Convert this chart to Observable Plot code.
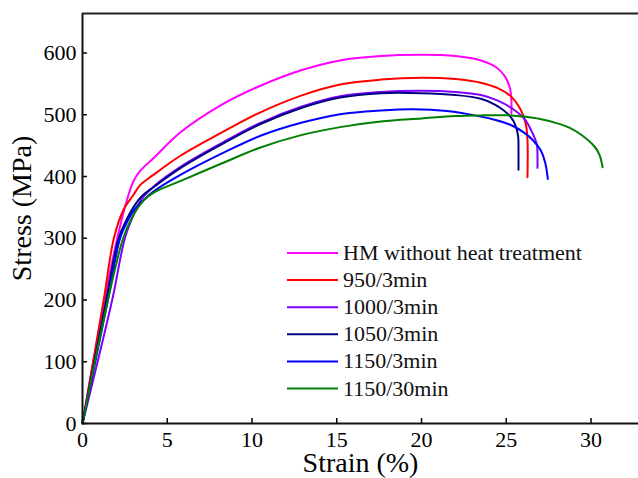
<!DOCTYPE html>
<html>
<head>
<meta charset="utf-8">
<script src="https://cdn.jsdelivr.net/npm/d3@7"></script>
<script src="https://cdn.jsdelivr.net/npm/@observablehq/plot@0.6"></script>
<style>
  html, body { margin: 0; padding: 0; background: white; }
  #wrap { position: relative; width: 638px; height: 478px; }
  #legend { position: absolute; left: 0; top: 0; pointer-events: none; }
  #wrap svg, #wrap svg text { font-family: "Liberation Serif", "Times New Roman", "DejaVu Serif", serif !important; }
</style>
</head>
<body>
<div id="wrap"></div>
<script>
// ---- data (strain %, stress MPa) ----
const seriesNames = ["HM without heat treatment", "950/3min", "1000/3min", "1050/3min", "1150/3min", "1150/30min"];
const seriesColors = ["#ff00ff", "#ff0000", "#8000ff", "#000080", "#0000ff", "#008000"];

const hm = [[0,0],[1.3,200],[2.05,300],[2.6,360],[3.0,392],[3.4,409],[4.2,430],[5.8,472],[8.2,516],[10.5,547],[12.9,572],[15.2,588],[17.6,595],[20,597],[22,595],[23.5,588],[24.4,577],[24.9,563],[25.2,545],[25.3,525],[25.3,502]];
const t950 = [[0,0],[1.25,200],[1.85,300],[2.4,345],[3.0,370],[3.4,386],[4.2,403],[5.8,434],[8.2,471],[10.5,504],[12.9,531],[15.2,549],[17.6,557],[20,560],[22,558],[23.5,552],[24.5,543],[25.3,529],[25.85,508],[26.15,485],[26.25,460],[26.25,399]];
const t1000 = [[0,0],[1.75,200],[2.5,300],[3.0,337],[3.5,364],[4.2,384],[5.8,416],[8.2,454],[10.5,487],[12.9,513],[15.2,530],[17.6,537],[20,539],[22,537],[23.5,532],[24.5,523],[25.3,511],[26.05,494],[26.5,473],[26.8,452],[26.84,435],[26.84,414]];
const t1050 = [[0,0],[1.4,200],[2.13,300],[2.6,330],[3.0,350],[3.5,368],[4.2,383],[5.8,414],[8.2,452],[10.5,485],[12.9,511],[15.2,528],[17.6,535],[20,535],[22,532],[23.5,526],[24.3,517],[24.8,508],[25.27,496],[25.55,482],[25.7,465],[25.72,445],[25.72,411]];
const t1150 = [[0,0],[1.5,200],[2.22,300],[2.7,330],[3.1,348],[3.6,362],[4.2,376],[5.8,403],[8.2,437],[10.5,466],[12.9,487],[15.2,501],[17.6,507],[19.5,509],[21.5,506],[23.5,497],[24.3,492],[25.3,483],[26.05,471],[26.6,458],[27.04,442],[27.3,422],[27.45,396]];
const t1150b = [[0,0],[1.5,200],[2.4,300],[2.93,334],[3.6,361],[4.2,374],[5.8,393],[8.2,421],[10.5,447],[12.9,467],[15.2,480],[17.6,489],[20,494],[22,498],[23.5,499],[25.3,499],[26.05,497],[27,493],[28.02,486],[28.8,478],[29.4,468],[30.19,449],[30.5,435],[30.68,415]];

const xTicks = [0, 5, 10, 15, 20, 25, 30];
const yTicks = [0, 100, 200, 300, 400, 500, 600];
const xMax = 32.8;
const yMax = 664;
const xLabel = "Strain (%)";
const yLabel = "Stress (MPa)";

const allSeries = [hm, t950, t1000, t1050, t1150, t1150b];
const rows = allSeries.flatMap((s, i) => s.map(([strain, stress]) => ({series: seriesNames[i], strain, stress})));

const font = "Liberation Serif, Times New Roman, DejaVu Serif, serif";

const chart = Plot.plot({
  width: 638,
  height: 478,
  marginLeft: 82,
  marginRight: 0,
  marginTop: 13,
  marginBottom: 55,
  style: {fontFamily: font, background: "white", color: "black", fontSize: "22px"},
  x: {domain: [0, xMax]},
  y: {domain: [0, yMax]},
  color: {domain: seriesNames, range: seriesColors},
  marks: [
    Plot.line(rows, {x: "strain", y: "stress", z: "series", stroke: "series", strokeWidth: 2, curve: "catmull-rom"}),
    Plot.axisX({ticks: xTicks, tickSize: -5, tickPadding: 13, label: null, fontSize: 22, fontFamily: font, strokeWidth: 1.5}),
    Plot.axisY({ticks: yTicks, tickSize: -5, tickPadding: 11, label: null, fontSize: 22, fontFamily: font, strokeWidth: 1.5}),
    Plot.ruleY([0], {stroke: "#111", strokeWidth: 2}),
    Plot.ruleX([0], {stroke: "#111", strokeWidth: 2}),
    Plot.ruleY([yMax], {stroke: "#222", strokeWidth: 2}),
    Plot.text([xLabel], {frameAnchor: "bottom", dy: 40, fontSize: 28, fontFamily: font, lineAnchor: "middle", textAnchor: "middle"}),
    Plot.text([yLabel], {frameAnchor: "left", dx: -60, dy: -10, rotate: -90, fontSize: 28, fontFamily: font, lineAnchor: "middle", textAnchor: "middle"})
  ]
});

const wrap = document.getElementById("wrap");
wrap.appendChild(chart);

// legend overlay (inside plot area, as in the reference)
const legendX0 = 287, legendX1 = 338, legendTextX = 343, legendY0 = 253, legendStep = 27.1;
const svg = d3.select(wrap).append("svg")
  .attr("id", "legend").attr("width", 638).attr("height", 478);
seriesNames.forEach((name, i) => {
  const y = legendY0 + i * legendStep;
  svg.append("line").attr("x1", legendX0).attr("x2", legendX1).attr("y1", y).attr("y2", y)
    .attr("stroke", seriesColors[i]).attr("stroke-width", 2);
  svg.append("text").attr("x", legendTextX).attr("y", y + 7)
    .attr("font-size", 22).attr("fill", "#111").text(name);
});
</script>
</body>
</html>
